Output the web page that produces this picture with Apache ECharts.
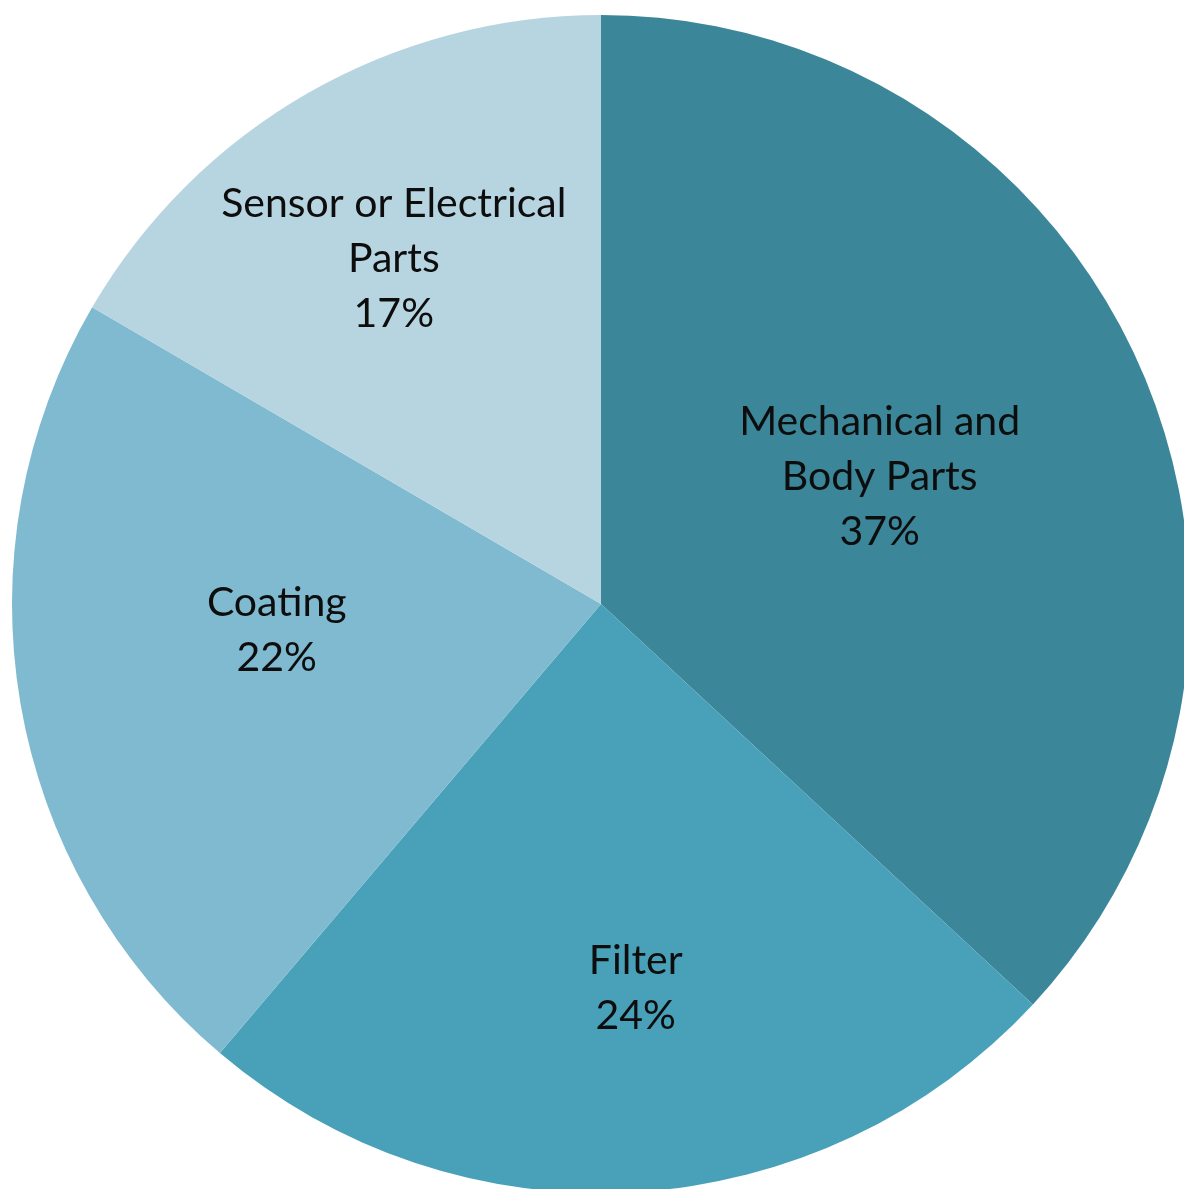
<!DOCTYPE html>
<html>
<head>
<meta charset="utf-8">
<script src="https://cdn.jsdelivr.net/npm/echarts@6/dist/echarts.min.js"></script>
<style>
html,body{margin:0;padding:0;background:#fff;}
#chart{width:1184px;height:1189px;}
</style>
</head>
<body>
<div id="chart"></div>
<script>
const categories = ["Mechanical and\nBody Parts", "Filter", "Coating", "Sensor or Electrical\nParts"];
const values = [36.9, 24.3, 22.2, 16.6];
const colors = ["#3B8699", "#48A1B9", "#7FBAD0", "#B7D5E0"];
const labelShift = [[6, -8], [17, 87], [-31, -24], [-59, -87]];

const chart = echarts.init(document.getElementById('chart'));
chart.setOption({
  backgroundColor: '#ffffff',
  animation: false,
  series: [{
    type: 'pie',
    center: [601, 604],
    radius: 589,
    startAngle: 90,
    clockwise: true,
    avoidLabelOverlap: false,
    itemStyle: { borderWidth: 0 },
    label: {
      show: true,
      position: 'inside',
      formatter: function (p) { return p.name + '\n' + Math.round(p.value) + '%'; },
      color: '#0d0d0d',
      fontFamily: 'Lato',
      fontSize: 41,
      lineHeight: 55,
      align: 'center'
    },
    labelLine: { show: false },
    emphasis: { disabled: true },
    labelLayout: function (p) {
      const s = labelShift[p.dataIndex];
      return { dx: s[0], dy: s[1] };
    },
    data: categories.map((c, i) => ({ name: c, value: values[i], itemStyle: { color: colors[i] } }))
  }]
});
</script>
</body>
</html>
